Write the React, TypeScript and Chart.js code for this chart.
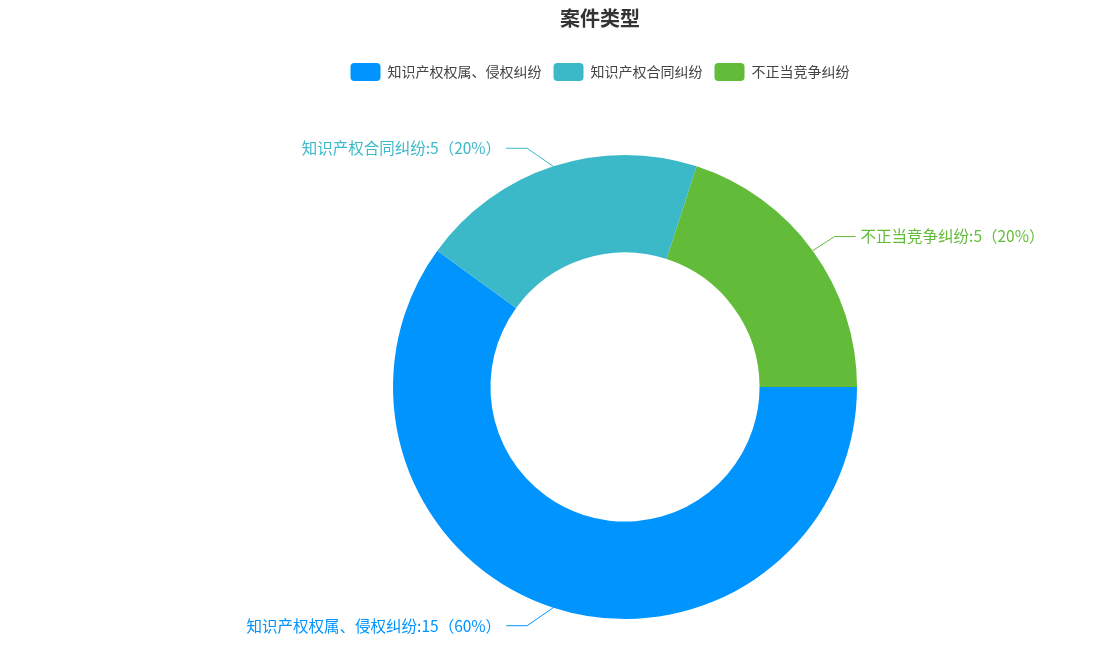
import { useEffect, useRef } from "react"
import { Chart, registerables } from "chart.js"

Chart.register(...registerables)

const FONT = "'Noto Sans CJK SC', 'Noto Sans', sans-serif"
Chart.defaults.font.family = FONT

const categories = ["知识产权权属、侵权纠纷", "知识产权合同纠纷", "不正当竞争纠纷"]
const counts = [15, 5, 5]
const colors = ["#0094FF", "#3CB9C8", "#63BB3A"]

// moves the ring off the title/legend centre, like the original layout
const shiftArea = {
  id: "shiftArea",
  afterLayout(chart: any) {
    const a = chart.chartArea
    a.left += 50
    a.top += 64
    a.width = a.right - a.left
    a.height = a.bottom - a.top
  },
}

// outside labels with a bent leader line
const outerLabels = {
  id: "outerLabels",
  afterDatasetsDraw(chart: any) {
    const ctx = chart.ctx as CanvasRenderingContext2D
    const meta = chart.getDatasetMeta(0)
    const data = chart.data.datasets[0].data as number[]
    const total = data.reduce((a, b) => a + b, 0)
    ctx.save()
    ctx.font = `15.5px ${FONT}`
    ctx.textBaseline = "middle"
    ctx.lineWidth = 1
    meta.data.forEach((arc: any, i: number) => {
      const { x, y, startAngle, endAngle, outerRadius } = arc.getProps(
        ["x", "y", "startAngle", "endAngle", "outerRadius"],
        true
      )
      const mid = (startAngle + endAngle) / 2
      const cos = Math.cos(mid)
      const sin = Math.sin(mid)
      const side = cos >= 0 ? 1 : -1
      const tilt = ((9 * Math.PI) / 180) * Math.pow(1 - Math.abs(cos), 2)
      const bend = mid - Math.sign(sin * cos) * tilt
      const er = outerRadius + 26
      const x0 = x + outerRadius * cos
      const y0 = y + outerRadius * sin
      const x1 = x + er * Math.cos(bend)
      const y1 = y + er * Math.sin(bend)
      const x2 = x1 + side * 21
      const color = colors[i]
      ctx.strokeStyle = color
      ctx.beginPath()
      ctx.moveTo(x0, y0)
      ctx.lineTo(x1, y1)
      ctx.lineTo(x2, y1)
      ctx.stroke()
      const pct = Math.round((data[i] / total) * 100)
      ctx.fillStyle = color
      ctx.textAlign = side > 0 ? "left" : "right"
      ctx.fillText(`${categories[i]}:${data[i]}（${pct}%）`, x2 + side * 5, y1)
    })
    ctx.restore()
  },
}

export default function App() {
  const chartRef = useRef<HTMLCanvasElement>(null)
  const chartInstance = useRef<Chart | null>(null)

  useEffect(() => {
    if (!chartRef.current) return

    if (chartInstance.current) {
      chartInstance.current.destroy()
    }

    const ctx = chartRef.current.getContext("2d")
    if (!ctx) return

    chartInstance.current = new Chart(ctx, {
      type: "doughnut",
      data: {
        labels: categories,
        datasets: [
          {
            data: counts,
            backgroundColor: colors,
            borderWidth: 0,
            hoverOffset: 0,
          },
        ],
      },
      options: {
        responsive: true,
        maintainAspectRatio: false,
        animation: false,
        events: [],
        rotation: 90,
        cutout: "58%",
        layout: {
          padding: { left: 93, right: 0, top: 0, bottom: 28 },
        },
        plugins: {
          title: {
            display: true,
            text: "案件类型",
            color: "#333333",
            font: { size: 20, weight: "bold", lineHeight: 1 },
            padding: { top: 0, bottom: 23 },
          },
          legend: {
            position: "top",
            labels: {
              boxWidth: 30,
              boxHeight: 18,
              useBorderRadius: true,
              borderRadius: 4,
              padding: 12,
              color: "#444444",
              font: { size: 14 },
            },
          },
          tooltip: { enabled: false },
        },
      },
      plugins: [shiftArea, outerLabels],
    })

    return () => {
      if (chartInstance.current) {
        chartInstance.current.destroy()
      }
    }
  }, [])

  return (
    <div style={{ position: "relative", width: 1091, height: 639 }}>
      <canvas ref={chartRef} />
    </div>
  )
}
